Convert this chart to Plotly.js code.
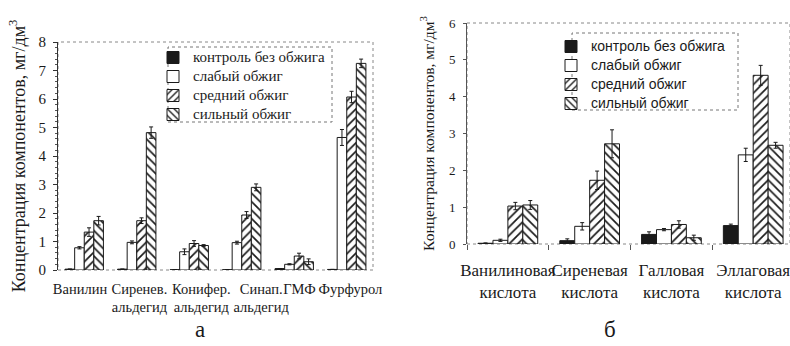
<!DOCTYPE html>
<html>
<head>
<meta charset="utf-8">
<script src="https://cdn.plot.ly/plotly-3.0.1.min.js"></script>
<style>html,body{margin:0;padding:0;background:#fff;}#chart{width:790px;height:346px;}</style>
</head>
<body>
<div id="chart"></div>
<script>
// ---- data: panel а (aldehydes / furans) ----
const catsA = ['Ванилин', 'Сиренев.<br>альдегид', 'Конифер.<br>альдегид', 'Синап.<br>альдегид', 'ГМФ', 'Фурфурол'];
const controlA = [0.03, 0.03, 0.01, 0.01, 0.05, 0.02];
const weakA    = [0.78, 0.97, 0.64, 0.96, 0.20, 4.65];
const mediumA  = [1.33, 1.73, 0.93, 1.93, 0.49, 6.07];
const strongA  = [1.73, 4.82, 0.86, 2.90, 0.29, 7.25];
const controlAErr = [0, 0, 0, 0, 0, 0];
const weakAErr    = [0.04, 0.05, 0.10, 0.05, 0.02, 0.28];
const mediumAErr  = [0.15, 0.10, 0.10, 0.12, 0.10, 0.20];
const strongAErr  = [0.15, 0.20, 0.03, 0.12, 0.10, 0.15];

// ---- data: panel б (acids) ----
const catsB = ['Ванилиновая<br>кислота', 'Сиреневая<br>кислота', 'Галловая<br>кислота', 'Эллаговая<br>кислота'];
const controlB = [0.02, 0.09, 0.26, 0.50];
const weakB    = [0.10, 0.48, 0.39, 2.42];
const mediumB  = [1.03, 1.73, 0.53, 4.58];
const strongB  = [1.06, 2.72, 0.17, 2.68];
const controlBErr = [0.01, 0.05, 0.07, 0.04];
const weakBErr    = [0.03, 0.10, 0.03, 0.18];
const mediumBErr  = [0.10, 0.25, 0.10, 0.27];
const strongBErr  = [0.12, 0.38, 0.07, 0.08];

const seriesNames = ['контроль без обжига', 'слабый обжиг', 'средний обжиг', 'сильный обжиг'];
const panelLabels = ['а', 'б'];

// ---- styles ----
const serif = 'Liberation Serif';
const sans = 'Liberation Sans';
const ink = '#1a1a1a';
const labelShiftA = [-0.08, 0.05, 0.23, 0.37, 0.10, 0.07]; // label placement tweak (layout)

function markerFor(i) {
  const base = {line: {color: ink, width: 1}};
  if (i === 0) return Object.assign(base, {color: ink});
  if (i === 1) return Object.assign(base, {color: '#ffffff'});
  return Object.assign(base, {color: '#ffffff', pattern: {shape: i === 2 ? '/' : '\\', fgcolor: ink, bgcolor: '#ffffff', size: 6, solidity: 0.28}});
}
function legendName(n, px, fam) {
  return '<span style="font-size:' + px + 'px;font-family:' + fam + '">' + n + '</span>';
}

const xA = catsA.map((_, i) => i);
const valsA = [controlA, weakA, mediumA, strongA];
const errsA = [controlAErr, weakAErr, mediumAErr, strongAErr];
const valsB = [controlB, weakB, mediumB, strongB];
const errsB = [controlBErr, weakBErr, mediumBErr, strongBErr];

const traces = [];
valsA.forEach((v, i) => {
  traces.push({
    type: 'bar', x: xA, y: v, name: legendName(seriesNames[i], 15, serif), xaxis: 'x', yaxis: 'y', legend: 'legend',
    marker: markerFor(i),
    error_y: {type: 'data', array: errsA[i], visible: true, color: ink, thickness: 1, width: 2}
  });
});
valsB.forEach((v, i) => {
  traces.push({
    type: 'bar', x: catsB, y: v, name: legendName(seriesNames[i], 14, sans), xaxis: 'x2', yaxis: 'y2', legend: 'legend2',
    marker: markerFor(i),
    error_y: {type: 'data', array: errsB[i], visible: true, color: ink, thickness: 1, width: 2}
  });
});

const H = 346, W = 790;
const yTitle = 'Концентрация компонентов, мг/дм<sup>3</sup>';

const layout = {
  width: W, height: H,
  margin: {l: 0, r: 0, t: 0, b: 0},
  paper_bgcolor: '#fff', plot_bgcolor: '#fff',
  barmode: 'group', bargap: 0.27, bargroupgap: 0,
  showlegend: true,
  font: {family: serif, color: ink},
  xaxis: {
    domain: [58 / W, 373 / W], range: [-0.5, 5.5], type: 'linear',
    tickmode: 'array', tickvals: xA.map((x, i) => x + labelShiftA[i]), ticktext: catsA,
    tickangle: 0, showline: false, showgrid: false, zeroline: false, ticks: '',
    tickfont: {family: serif, size: 14.5, color: ink}, ticklabelstandoff: 8
  },
  yaxis: {
    domain: [(H - 270) / H, (H - 42) / H], range: [0, 8], dtick: 1,
    showline: true, linecolor: '#333', linewidth: 1, showgrid: false, zeroline: false,
    ticks: 'outside', ticklen: 4, tickcolor: '#333',
    minor: {dtick: 0.2, ticks: 'outside', ticklen: 2, tickcolor: '#555', showgrid: false},
    tickfont: {family: serif, size: 15, color: ink}, ticklabelstandoff: 4,
    title: {text: yTitle, font: {family: serif, size: 18, color: ink}, standoff: 8}
  },
  xaxis2: {
    anchor: 'y2',
    domain: [467 / W, 1], range: [-0.5, 3.45], type: 'category',
    tickson: 'boundaries', ticks: 'outside', ticklen: 5, tickcolor: '#555',
    tickangle: 0, showline: false, showgrid: false, zeroline: false,
    tickfont: {family: serif, size: 17, color: ink}, ticklabelstandoff: 14
  },
  yaxis2: {
    anchor: 'x2',
    domain: [(H - 244) / H, (H - 23) / H], range: [0, 6], dtick: 1,
    showline: true, linecolor: '#555', linewidth: 1, showgrid: false, zeroline: false,
    ticks: 'outside', ticklen: 3, tickcolor: '#555',
    tickfont: {family: serif, size: 13, color: ink}, ticklabelstandoff: 5,
    title: {text: yTitle, font: {family: serif, size: 15.5, color: ink}, standoff: 10}
  },
  legend: {
    x: 153 / W, y: (H - 43) / H, xanchor: 'left', yanchor: 'top',
    bgcolor: 'rgba(0,0,0,0)', borderwidth: 0, tracegroupgap: 0,
    font: {family: serif, size: 12, color: ink}
  },
  legend2: {
    x: 551 / W, y: (H - 32) / H, xanchor: 'left', yanchor: 'top',
    bgcolor: 'rgba(0,0,0,0)', borderwidth: 0, tracegroupgap: 0,
    font: {family: sans, size: 11.2, color: ink}
  },
  shapes: [
    {type: 'rect', xref: 'x domain', yref: 'y domain', x0: 0, x1: 1, y0: 0, y1: 1, line: {color: '#888', width: 1, dash: 'dot'}, layer: 'below'},
    {type: 'rect', xref: 'x2 domain', yref: 'y2 domain', x0: 0, x1: 1, y0: 0, y1: 1, line: {color: '#888', width: 1, dash: 'dot'}, layer: 'below'},
    {type: 'rect', xref: 'paper', yref: 'paper', x0: 168 / W, x1: 332 / W, y0: (H - 122) / H, y1: (H - 47) / H, line: {color: '#777', width: 1, dash: 'dot'}},
    {type: 'rect', xref: 'paper', yref: 'paper', x0: 572 / W, x1: 738 / W, y0: (H - 110) / H, y1: (H - 33) / H, line: {color: '#777', width: 1, dash: 'dot'}}
  ],
  annotations: [
    {text: panelLabels[0], xref: 'paper', yref: 'paper', x: 200 / W, y: (H - 329) / H, xanchor: 'center', yanchor: 'middle', showarrow: false, font: {family: serif, size: 23, color: ink}},
    {text: panelLabels[1], xref: 'paper', yref: 'paper', x: 610 / W, y: (H - 329) / H, xanchor: 'center', yanchor: 'middle', showarrow: false, font: {family: serif, size: 23, color: ink}}
  ]
};

Plotly.newPlot('chart', traces, layout, {staticPlot: true, displayModeBar: false});
</script>
</body>
</html>
